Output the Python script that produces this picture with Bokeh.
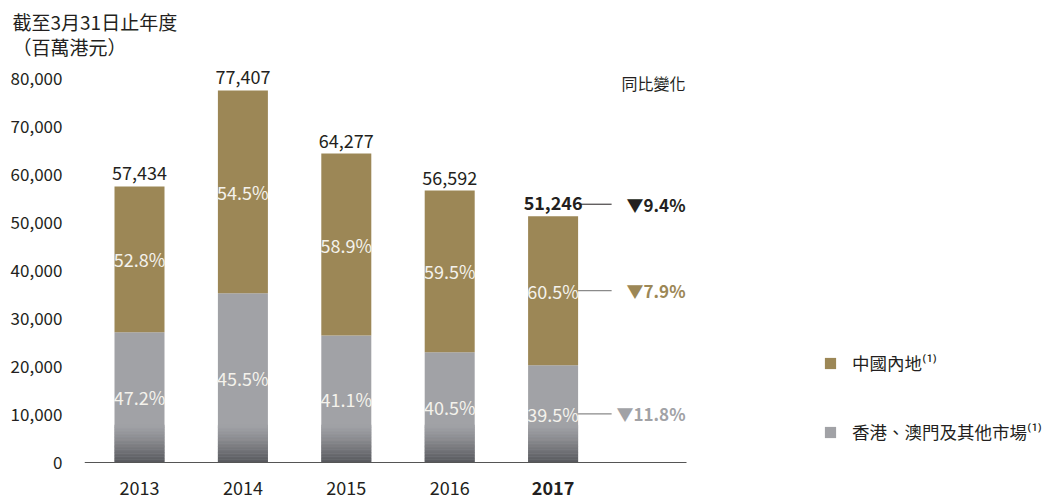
from bokeh.plotting import figure
from bokeh.models import (Range1d, FixedTicker, NumeralTickFormatter, Legend,
                          LegendItem, Title, ColumnDataSource)
from bokeh.core.properties import value
from bokeh.embed import file_html
from bokeh.resources import INLINE

# ---------------- data ----------------
years = [2013, 2014, 2015, 2016, 2017]
year_labels = ["2013", "2014", "2015", "2016", "2017"]
totals = [57434, 77407, 64277, 56592, 51246]
total_labels = ["57,434", "77,407", "64,277", "56,592", "51,246"]
hk_pct = [47.2, 45.5, 41.1, 40.5, 39.5]
ml_pct = [52.8, 54.5, 58.9, 59.5, 60.5]
yoy_total = "▼9.4%"
yoy_ml = "▼7.9%"
yoy_hk = "▼11.8%"
yoy_header = "同比變化"
series_names = ["中國內地⁽¹⁾", "香港、澳門及其他市場⁽¹⁾"]
y_ticks = [0, 10000, 20000, 30000, 40000, 50000, 60000, 70000, 80000]
title_lines = ["截至3月31日止年度", "（百萬港元）"]

hk_vals = [t * p / 100 for t, p in zip(totals, hk_pct)]
hk_mid = [v / 2 for v in hk_vals]
ml_mid = [h + (t - h) / 2 for h, t in zip(hk_vals, totals)]

# ---------------- layout / style ----------------
W, H = 1050, 502
FL, FT = 84, 54                 # frame left / top (px)
BASE = 462                      # px of value 0
UPP = 10000 / 48.06             # value units per px
Y0 = -(H - BASE) * UPP
Y1 = (BASE - FT) * UPP
XPP = 103.4                     # px per year
X0 = 2013 - (139 - FL) / XPP
X1 = X0 + (W - FL) / XPP
XB = X0 + (686 - FL) / XPP      # end of the baseline
BAR_W = 50 / XPP

GOLD = "#9c8756"
GRAY = "#a1a2a6"
GRAD_DARK = "#56575c"
TXT = "#231f20"
IN_TXT = "#f4f2ec"
LINE_GRAY = "#8a8a8a"
CJK = "Noto Sans CJK TC"
FONT = value(CJK)
FS = "18px"

p = figure(width=W, height=H, x_range=Range1d(X0, X1), y_range=Range1d(Y0, Y1),
           output_backend="svg", toolbar_location=None,
           min_border_left=FL, min_border_right=0, min_border_top=FT,
           min_border_bottom=0, outline_line_color=None)
p.grid.visible = False

ya = p.yaxis[0]
ya.ticker = FixedTicker(ticks=y_ticks)
ya.formatter = NumeralTickFormatter(format="0,0")
ya.axis_line_color = None
ya.major_tick_line_color = None
ya.minor_tick_line_color = None
ya.major_label_standoff = 16
ya.major_label_text_font = CJK
ya.major_label_text_font_size = "17px"
ya.major_label_text_color = TXT

xa = p.xaxis[0]
xa.ticker = FixedTicker(ticks=[])
xa.fixed_location = 0
xa.bounds = (X0, XB)
xa.axis_line_color = "#555555"
xa.axis_line_width = 1.2
xa.major_tick_line_color = None
xa.minor_tick_line_color = None
xa.major_tick_out = 0
xa.major_label_standoff = 0
xa.major_label_text_font_size = "0px"

src = ColumnDataSource(dict(x=years, hk=hk_vals, total=totals))
r_hk = p.vbar(x="x", bottom=0, top="hk", width=BAR_W, fill_color=GRAY, line_color=None, source=src)
r_ml = p.vbar(x="x", bottom="hk", top="total", width=BAR_W, fill_color=GOLD, line_color=None, source=src)

# bottom shading of the grey bars (style only)
GRAD_TOP = 7800
N = 26
def mix(c1, c2, t):
    a = [int(c1[i:i + 2], 16) for i in (1, 3, 5)]
    b = [int(c2[i:i + 2], 16) for i in (1, 3, 5)]
    return "#%02x%02x%02x" % tuple(round(a[k] + (b[k] - a[k]) * t) for k in range(3))
gx, gb, gt, gc = [], [], [], []
for i in range(N):
    lo = GRAD_TOP * i / N
    hi = GRAD_TOP * (i + 1) / N + 60
    t = (1 - (i + 0.5) / N) ** 1.2
    for x in years:
        gx.append(x); gb.append(lo); gt.append(hi); gc.append(mix(GRAY, GRAD_DARK, t))
p.vbar(x=gx, bottom=gb, top=gt, width=BAR_W, fill_color=gc, line_color=None)

# percentage labels inside bars
p.text(x=years, y=hk_mid, text=[f"{v}%" for v in hk_pct], text_font=FONT,
       text_font_size=FS, text_color=IN_TXT, text_align="center", text_baseline="middle")
p.text(x=years, y=ml_mid, text=[f"{v}%" for v in ml_pct], text_font=FONT,
       text_font_size=FS, text_color=IN_TXT, text_align="center", text_baseline="middle")

# total labels
OFF = 13
p.text(x=years[:-1], y=totals[:-1], text=total_labels[:-1], text_font=FONT,
       text_font_size=FS, text_color=TXT, text_align="center", text_baseline="middle",
       y_offset=-OFF)
p.text(x=years[-1:], y=totals[-1:], text=total_labels[-1:], text_font=FONT,
       text_font_size=FS, text_font_style="bold", text_color=TXT, text_align="center",
       text_baseline="middle", y_offset=-OFF)

# year labels
YL_OFF = 25
p.text(x=years[:-1], y=[0] * 4, text=year_labels[:-1], text_font=FONT,
       text_font_size=FS, text_color=TXT, text_align="center", text_baseline="middle",
       y_offset=YL_OFF)
p.text(x=years[-1:], y=[0], text=year_labels[-1:], text_font=FONT,
       text_font_size=FS, text_font_style="bold", text_color=TXT, text_align="center",
       text_baseline="middle", y_offset=YL_OFF)

# year-on-year change annotations
last = len(years) - 1
lx_end = years[last] + 0.566
y_tot_line = totals[last] + (OFF - 1) * UPP
p.segment(x0=[years[last] + 0.27], y0=[y_tot_line], x1=[lx_end], y1=[y_tot_line],
          line_color=TXT, line_width=1)
p.segment(x0=[years[last] + BAR_W / 2] * 2, y0=[ml_mid[last], hk_mid[last]],
          x1=[lx_end] * 2, y1=[ml_mid[last], hk_mid[last]], line_color=LINE_GRAY, line_width=1.2)
p.text(x=[XB] * 3, y=[y_tot_line, ml_mid[last], hk_mid[last]],
       text=[yoy_total, yoy_ml, yoy_hk], text_color=[TXT, GOLD, GRAY],
       text_font=FONT, text_font_size="17px", text_font_style="bold",
       text_align="right", text_baseline="middle", x_offset=-1)
p.text(x=[XB], y=[y_ticks[-1]], text=[yoy_header], text_font=FONT, text_font_size="16px",
       text_color=TXT, text_align="right", text_baseline="middle", x_offset=-1, y_offset=5)

# title lines (stacked above the frame)
p.add_layout(Title(text=title_lines[1], align="left", offset=-72, standoff=-10,
                   text_font=CJK, text_font_size="19px", text_font_style="normal",
                   text_color=TXT), "above")
p.add_layout(Title(text=title_lines[0], align="left", offset=-72, standoff=2,
                   text_font=CJK, text_font_size="19px", text_font_style="normal",
                   text_color=TXT), "above")

legend = Legend(items=[LegendItem(label=series_names[0], renderers=[r_ml]),
                       LegendItem(label=series_names[1], renderers=[r_hk])],
                location=(739, 58), glyph_width=14, glyph_height=14, label_standoff=15,
                spacing=44, padding=0, margin=0, border_line_color=None,
                background_fill_alpha=0, label_text_font=CJK,
                label_text_font_size="17.5px", label_text_color=TXT, label_height=20)
p.add_layout(legend, "center")

open("out.html", "w").write(file_html(p, INLINE))
